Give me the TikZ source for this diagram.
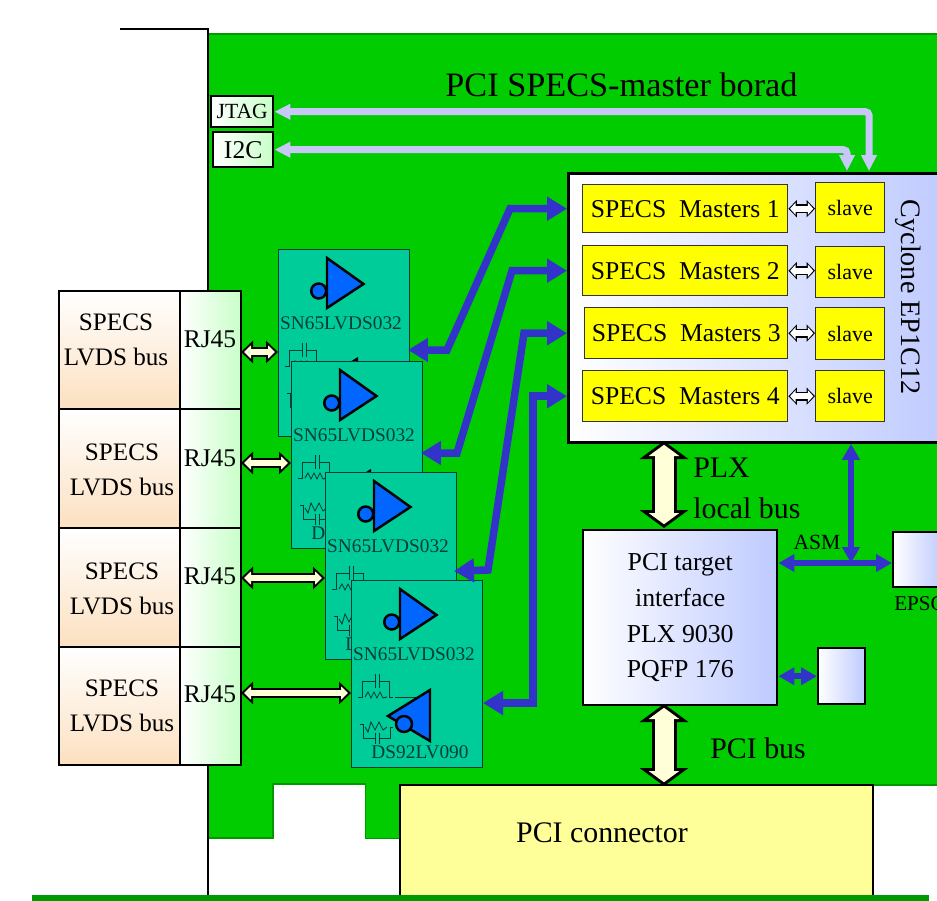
\documentclass[tikz,border=0pt]{standalone}
\usepackage{fontspec}
\setmainfont{Liberation Serif}
\usepackage{tikz}
\usetikzlibrary{arrows.meta}

\definecolor{boardgreen}{HTML}{00CC00}
\definecolor{boardedge}{HTML}{009900}
\definecolor{chipteal}{HTML}{00CC99}
\definecolor{chipink}{HTML}{003C3C}
\definecolor{gateblue}{HTML}{0066FF}
\definecolor{busblue}{HTML}{3333CC}
\definecolor{lavender}{HTML}{C8C8F8}
\definecolor{cream}{HTML}{FFFFD8}
\definecolor{palegold}{HTML}{FFFF99}
\definecolor{peach}{HTML}{FCE0C0}
\definecolor{mint}{HTML}{C8FFC8}
\definecolor{periwinkle}{HTML}{BECAFF}
\definecolor{masteryellow}{HTML}{FFFF00}

\newcommand{\fsz}[2]{\fontsize{#1}{#2}\selectfont}

\begin{document}
\begin{tikzpicture}[
    x=0.02cm, y=-0.02cm,
    wh/.style n args={2}{minimum width=#1*0.02cm, minimum height=#2*0.02cm,
                anchor=north west, inner sep=0pt},
    blk/.style={draw, line width=1.4pt, align=center},
    ylw/.style={draw=black!80, line width=0.8pt, fill=masteryellow, inner sep=0pt},
    blu/.style={blk, left color=white, right color=periwinkle},
    grn/.style={blk, left color=white, right color=mint},
    lbl/.style={inner sep=0pt, align=center},
    barr/.style={-, busblue, line width=0.15cm, line join=miter,
                {Triangle[length=0.4cm, width=0.46cm]}-{Triangle[length=0.4cm, width=0.46cm]}},
    sarr/.style={busblue, line width=0.12cm,
                {Triangle[length=0.32cm, width=0.34cm]}-{Triangle[length=0.32cm, width=0.34cm]}},
    larr/.style={lavender, line width=0.14cm, rounded corners=2pt,
                {Triangle[length=0.32cm, width=0.3cm]}-{Triangle[length=0.32cm, width=0.3cm]}},
    hugearr/.style={draw=cream, line width=0.38cm,
                {Triangle[length=0.225cm, width=0.6cm]}-{Triangle[length=0.225cm, width=0.6cm]},
                shorten >=0.075cm, shorten <=0.075cm,
                preaction={draw=black, line width=0.5cm, shorten >=0pt, shorten <=0pt,
                {Triangle[length=0.36cm, width=0.96cm]}-{Triangle[length=0.36cm, width=0.96cm]}}},
    rjarr/.style={draw=cream, line width=0.12cm,
                {Triangle[length=0.14cm, width=0.26cm]}-{Triangle[length=0.14cm, width=0.26cm]},
                shorten >=0.06cm, shorten <=0.06cm,
                preaction={draw=black, line width=0.2cm, shorten >=0pt, shorten <=0pt,
                {Triangle[length=0.24cm, width=0.44cm]}-{Triangle[length=0.24cm, width=0.44cm]}}},
    finearr/.style={draw=white, line width=0.12cm,
                {Triangle[length=0.11cm, width=0.24cm]}-{Triangle[length=0.11cm, width=0.24cm]},
                shorten >=0.034cm, shorten <=0.034cm,
                preaction={draw=black, line width=0.18cm, shorten >=0pt, shorten <=0pt,
                {Triangle[length=0.17cm, width=0.34cm]}-{Triangle[length=0.17cm, width=0.34cm]}}},
    gate/.style={draw=black, line width=1.4pt, fill=gateblue},
    rc/.style={chipink, line width=0.5pt},
    chiptxt/.style={lbl, text=chipink, font=\fsz{11}{13}},
    driver/.pic={
      \node[wh={131}{187}, draw=chipink, line width=0.7pt, fill=chipteal] (-box) at (0,0) {};
      % receiver gate
      \draw[gate] (49,9) -- (85.5,35) -- (49,59) -- cycle;
      \draw[gate] (40.7,42) circle (7.5);
      \node[chiptxt] (-top) at (63,74.3) {SN65LVDS032};
      % termination
      \draw[rc] (7,117) -- (11.3,117) -- (11.3,101) -- (24,101) (24,94) -- (24,108)
                (28.3,94) -- (28.3,108) (28.3,101) -- (38.3,101) -- (38.3,117) -- (42,117);
      \draw[rc] (14,117) -- (17,112) -- (20,118) -- (23,112) -- (26,118) -- (29,112) -- (32,118) -- (36,117);
      \draw[rc] (44,117.7) -- (70,117.7);
      \draw[rc] (9,144.3) -- (12.3,144.3) -- (12.3,158.7) -- (24,158.7) (24,152.7) -- (24,164.3)
                (28.3,152.7) -- (28.3,164.3) (28.3,158.7) -- (39,158.7) -- (39,147) -- (42,147);
      \draw[rc] (14,147) -- (17,152) -- (20,142) -- (24,150) -- (28,142) -- (32,150) -- (36,147);
      % driver gate
      \draw[gate] (37,136) -- (79,110) -- (79,161) -- cycle;
      \draw[gate] (53,144) circle (8);
      \node[chiptxt] (-bot) at (69,172.7) {DS92LV090};
    },
  ]
    \useasboundingbox (0,0) rectangle (937,900);
    \clip (0,0) rectangle (937,900);

    % Board
    \draw[boardedge, line width=0.6pt, fill=boardgreen]
      (208,34) -- (945,34) -- (945,785) -- (366,785) -- (366,838) -- (399,838)
      -- (366,838) -- (366,784) -- (273,784) -- (273,838) -- (208,838) -- cycle;
    \fill[boardgreen] (366,780) rectangle (399,838);
    \draw[black, line width=1.5pt] (120,29) -- (208,29) -- (208,895);
    \node[wh={473}{111}, draw=black, line width=1.2pt, fill=palegold] (pcicon) at (399,784) {};
    \node[lbl, font=\fsz{17}{20}] (pciconlab) at (602,833) {PCI connector};
    \fill[boardedge] (32,895) rectangle (929,902);

    % Title and debug ports
    \node[lbl, font=\fsz{19.5}{24}] (title) at (621.5,85) {PCI SPECS-master borad};
    \node[grn, wh={62}{31}, font=\fsz{12.3}{14}] (jtag) at (210,95) {JTAG};
    \node[grn, wh={60}{35}, font=\fsz{14.6}{16}] (itwoc) at (212,131) {I2C};

    % Cyclone with masters and slaves
    \node[blk, line width=1.6pt, wh={385}{269}, left color=white, right color=periwinkle,
          draw=black] (fpga) at (567,172) {};
    \node[lbl, rotate=-90, font=\fsz{16}{18}] (fpgalab) at (908,297) {Cyclone EP1C12};
    \foreach \id/\num/\mx/\my/\mw/\mh/\sy/\sh in {A/1/582/184/205/48/182/50,
        B/2/582/245/205/50/246/51, C/3/584/307/203/51/307/52, D/4/582/370/205/51/370/51} {
      \node[ylw, wh={\mw}{\mh}, font=\fsz{14.6}{16}] (master\id) at (\mx,\my) {SPECS\ \ Masters \num};
      \node[ylw, wh={69}{\sh}, font=\fsz{12.5}{14}] (slave\id) at (815,\sy) {slave};
      \draw[finearr] (master\id.east) -- (master\id.east -| slave\id.west);
    }

    % PLX bridge and its memories
    \node[blu, wh={194}{175}, font=\fsz{14.7}{20.3}] (plx) at (582,529)
      {PCI target\\interface\\PLX 9030\\PQFP 176};
    \node[blu, wh={50}{55}] (epsc) at (892,531) {};
    \node[lbl, anchor=west, font=\fsz{12}{14}] (epsclab) at (894,604) {EPSC};
    \node[blu, wh={47}{56}] (sram) at (817,647) {};
    \node[lbl, anchor=west, font=\fsz{17}{20}] (plxa) at (693,468) {PLX};
    \node[lbl, anchor=west, font=\fsz{17}{20}] (plxb) at (693,508) {local bus};
    \node[lbl, anchor=west, font=\fsz{17}{20}] (pcibus) at (710,748) {PCI bus};
    \node[lbl, font=\fsz{12.3}{14}] (asm) at (817,542) {ASM};

    % Front panel rows
    \foreach \id/\rowy/\rowh/\lx/\ly in {A/290/118/116/340, B/408/119/122/470,
        C/527/119/122/589, D/646/118/122/706} {
      \node[blk, wh={121}{\rowh}, top color=white, bottom color=peach] (specs\id) at (58,\rowy) {};
      \node[grn, wh={61}{\rowh}] (rj\id) at (179,\rowy) {};
      \node[lbl, font=\fsz{14.3}{20}] (bus\id) at (\lx,\ly) {SPECS\\LVDS bus};
    }
    \node[lbl, font=\fsz{14.5}{16}] (rjlabA) at (210,339) {RJ45};
    \node[lbl, font=\fsz{14.5}{16}] (rjlabB) at (210,458) {RJ45};
    \node[lbl, font=\fsz{14.5}{16}] (rjlabC) at (210,576) {RJ45};
    \node[lbl, font=\fsz{14.5}{16}] (rjlabD) at (210,694) {RJ45};

    % LVDS chips
    \pic (chipA) at (278,249) {driver};
    \pic (chipB) at (291,361) {driver};
    \pic (chipC) at (325,472) {driver};
    \pic (chipD) at (351,580) {driver};

    % Connection points
    \coordinate (lvdsA) at (241,352);
    \coordinate (lvdsB) at (241,463);
    \coordinate (lvdsC) at (241,578);
    \coordinate (lvdsD) at (241,693);
    \coordinate (pinA) at (408,350);
    \coordinate (pinB) at (421,453);
    \coordinate (pinC) at (454,571);
    \coordinate (pinD) at (483,703);
    \coordinate (tapA) at (847,171);
    \coordinate (tapB) at (869,171);
    \coordinate (asmjoin) at (851,563);

    % Connections
    \draw[larr] (jtag.east) -| (tapB);
    \draw[larr] (itwoc.east) -| (tapA);
    \draw[rjarr] (lvdsA) -- (lvdsA -| chipA-box.west);
    \draw[rjarr] (lvdsB) -- (lvdsB -| chipB-box.west);
    \draw[rjarr] (lvdsC) -- (lvdsC -| chipC-box.west);
    \draw[rjarr] (lvdsD) -- (lvdsD -| chipD-box.west);
    \draw[barr] (pinA) -- (447,350) -- (510,0 |- masterA.west) -- (fpga.west |- masterA.west);
    \draw[barr] (pinB) -- (457,453) -- (512,0 |- masterB.west) -- (fpga.west |- masterB.west);
    \draw[barr] (pinC) -- (488,570) -- (524,0 |- masterC.west) -- (fpga.west |- masterC.west);
    \draw[barr] (pinD) -- (533,703) -- (533,0 |- masterD.west) -- (fpga.west |- masterD.west);
    \draw[hugearr] (664,441) -- (664,528);
    \draw[hugearr] (664,704) -- (664,786);
    \draw[sarr] (plx.east |- asmjoin) -- (epsc.west |- asmjoin);
    \draw[sarr] (fpga.south -| asmjoin) -- (asmjoin);
    \draw[sarr] (plx.east |- sram.west) -- (sram.west);
\end{tikzpicture}
\end{document}
